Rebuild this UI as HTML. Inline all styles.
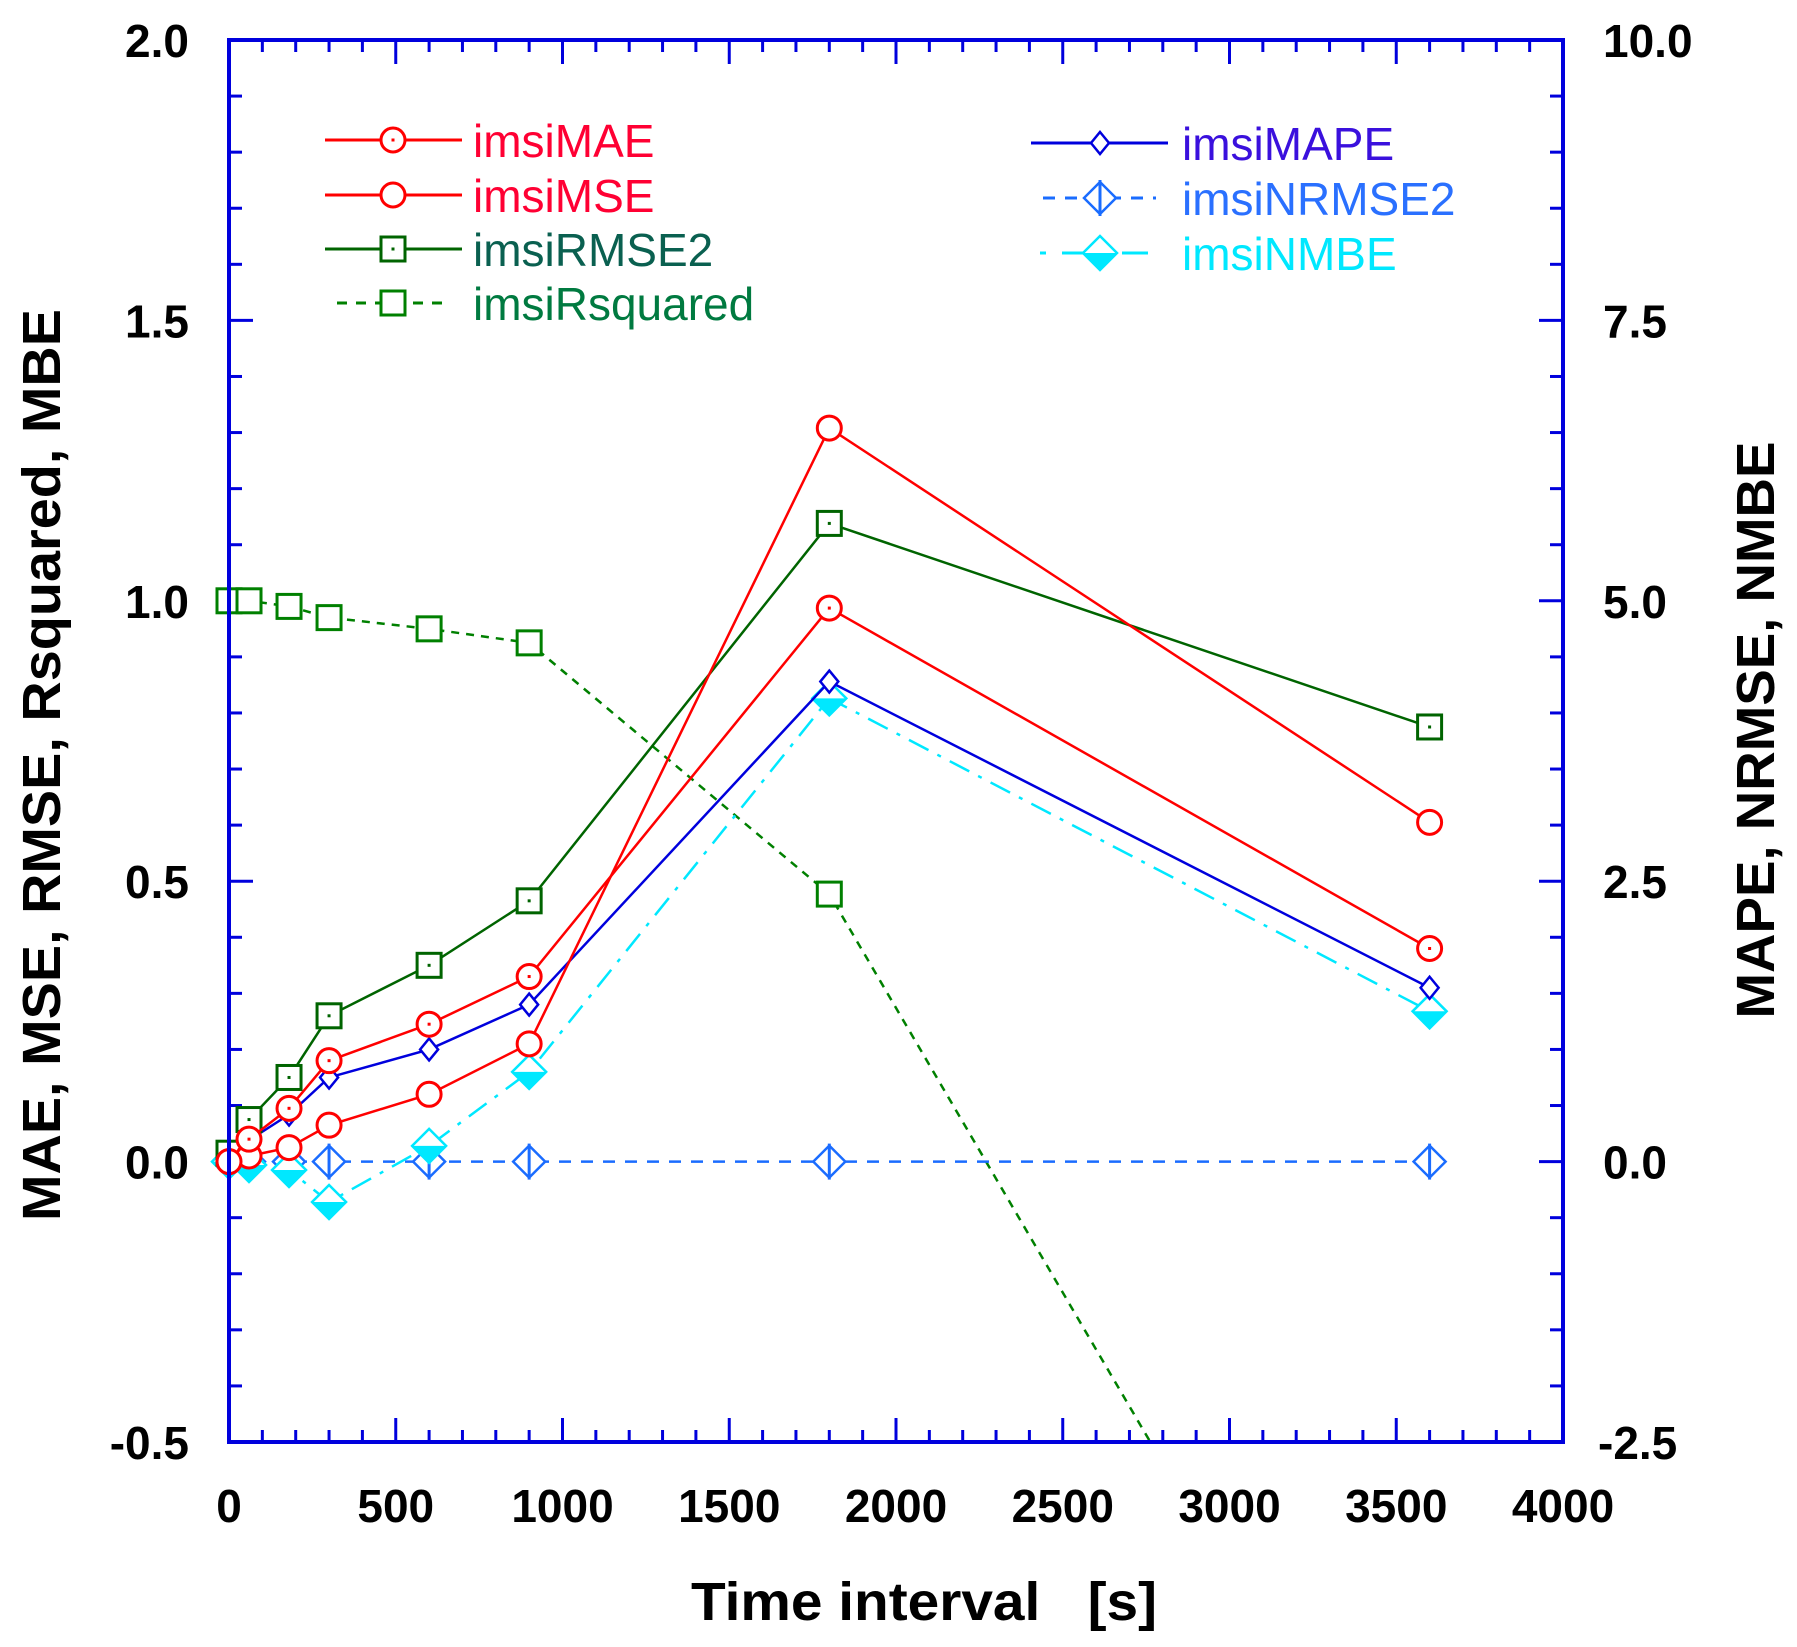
<!DOCTYPE html>
<html><head><meta charset="utf-8"><style>
html,body{margin:0;padding:0;background:#fff;width:1797px;height:1647px;overflow:hidden;}
svg{display:block;font-family:"Liberation Sans",sans-serif;}
</style></head><body>
<svg id="chart" width="1797" height="1647" viewBox="0 0 1797 1647" xmlns="http://www.w3.org/2000/svg">
<g id="grid-ticks"></g>
<g id="series"></g>
<rect x="229" y="40" width="1334" height="1402" fill="none" stroke="#0000dd" stroke-width="4"/>
<g id="labels" font-size="46" font-weight="bold" fill="#000"></g>
<text transform="translate(60,765) rotate(-90)" text-anchor="middle" font-size="54" font-weight="bold" textLength="912" lengthAdjust="spacingAndGlyphs">MAE, MSE, RMSE, Rsquared, MBE</text>
<text transform="translate(1774,730) rotate(-90)" text-anchor="middle" font-size="54" font-weight="bold" textLength="577" lengthAdjust="spacingAndGlyphs">MAPE, NRMSE, NMBE</text>
<text x="924" y="1620" text-anchor="middle" font-size="54" font-weight="bold" textLength="466" lengthAdjust="spacingAndGlyphs" xml:space="preserve">Time interval   [s]</text>
<g id="legend" font-size="46"></g>
</svg>
<script>
const xVals = [0, 60, 180, 300, 600, 900, 1800, 3600];
const maeVals = [0.0, 0.04, 0.095, 0.18, 0.245, 0.33, 0.987, 0.38];
const mseVals = [0.0, 0.01, 0.025, 0.065, 0.12, 0.21, 1.308, 0.605];
const rmse2Vals = [0.015, 0.075, 0.15, 0.26, 0.35, 0.465, 1.138, 0.775];
const rsqVals = [1.0, 1.0, 0.99, 0.97, 0.95, 0.925, 0.477, -1.35];
const mapeVals = [0.0, 0.19, 0.42, 0.75, 1.0, 1.4, 4.28, 1.55];
const nrmseVals = [0.0, 0.0, 0.0, 0.0, 0.0, 0.0, 0.0, 0.0];
const nmbeVals = [0.0, -0.03, -0.075, -0.36, 0.14, 0.8, 4.13, 1.34];
const xTicks = [0, 500, 1000, 1500, 2000, 2500, 3000, 3500, 4000];
const yLeftTicks = ["-0.5", "0.0", "0.5", "1.0", "1.5", "2.0"];
const yRightTicks = ["-2.5", "0.0", "2.5", "5.0", "7.5", "10.0"];

const NS = "http://www.w3.org/2000/svg";
const X0 = 229, X1 = 1563, Y0 = 1442, Y1 = 40;
function xs(v){ return X0 + (v - 0) / 4000 * (X1 - X0); }
function yl(v){ return Y0 - (v + 0.5) / 2.5 * (Y0 - Y1); }
function yr(v){ return Y0 - (v + 2.5) / 12.5 * (Y0 - Y1); }
function mk(tag, attrs, parent){
  const e = document.createElementNS(NS, tag);
  for (const k in attrs) e.setAttribute(k, attrs[k]);
  parent.appendChild(e); return e;
}
const AX = "#0000dd";
const ticks = document.getElementById('grid-ticks');
for (let v = 0; v <= 4000; v += 100) {
  const len = v % 500 === 0 ? 24 : 12;
  const x = xs(v);
  const t1 = mk('line', {x1:x, y1:Y0, x2:x, y2:Y0-len, stroke:AX, 'stroke-width':3}, ticks);
  
  
  const t2 = mk('line', {x1:x, y1:Y1, x2:x, y2:Y1+len, stroke:AX, 'stroke-width':3}, ticks);
  
  
}
for (let i = 0; i <= 25; i++) {
  const v = -0.5 + i * 0.1;
  const len = i % 5 === 0 ? 24 : 13;
  const y = yl(v);
  const t1 = mk('line', {x1:X0, y1:y, x2:X0+len, y2:y, stroke:AX, 'stroke-width':3}, ticks);
  
  
  const t2 = mk('line', {x1:X1, y1:y, x2:X1-len, y2:y, stroke:AX, 'stroke-width':3}, ticks);
  
  
}
const labels = document.getElementById('labels');
xTicks.forEach(v => {
  const t = mk('text', {x:xs(v), y:1522, 'text-anchor':'middle'}, labels);
  
  
  t.textContent = v;
});
yLeftTicks.forEach(s => {
  const t = mk('text', {x:189, y:yl(parseFloat(s))+17, 'text-anchor':'end'}, labels);
  
  
  t.textContent = s;
});
yRightTicks.forEach(s => {
  const v = parseFloat(s);
  const t = mk('text', {x: v < 0 ? 1598 : 1603, y:yr(v)+17, 'text-anchor':'start'}, labels);
  
  
  t.textContent = s;
});

function marker(type, x, y, color, parent){
  const g = mk('g', {}, parent);
  if (type === 'circleDot' || type === 'circle') {
    mk('circle', {cx:x, cy:y, r:12, fill:'#fff', stroke:color, 'stroke-width':3}, g);
    if (type === 'circleDot') mk('rect', {x:x-1.5, y:y-1.5, width:3, height:3, fill:color}, g);
  } else if (type === 'squareDot' || type === 'square') {
    mk('rect', {x:x-12, y:y-12, width:24, height:24, fill:'#fff', stroke:color, 'stroke-width':3}, g);
    if (type === 'squareDot') mk('rect', {x:x-1.5, y:y-1.5, width:3, height:3, fill:color}, g);
  } else if (type === 'diamondSmall') {
    mk('polygon', {points:`${x},${y-11} ${x+9},${y} ${x},${y+11} ${x-9},${y}`, fill:'#fff', stroke:color, 'stroke-width':2.5}, g);
  } else if (type === 'diamondCross') {
    mk('polygon', {points:`${x},${y-16} ${x+16},${y} ${x},${y+16} ${x-16},${y}`, fill:'#fff', stroke:color, 'stroke-width':2.5}, g);
    mk('line', {x1:x, y1:y-18, x2:x, y2:y+18, stroke:color, 'stroke-width':3}, g);
  } else if (type === 'diamondHalf') {
    mk('polygon', {points:`${x},${y-17} ${x+17},${y} ${x},${y+17} ${x-17},${y}`, fill:'#fff', stroke:color, 'stroke-width':2.5}, g);
    mk('polygon', {points:`${x-17},${y} ${x+17},${y} ${x},${y+17}`, fill:color}, g);
  }
  return g;
}
// clip a polyline (pixel points) to the plot's vertical range
function clipPts(pts){
  const out = [];
  for (let i = 0; i < pts.length; i++) {
    const p = pts[i];
    const inside = p[1] >= Y1 && p[1] <= Y0;
    if (i > 0) {
      const q = pts[i-1];
      const qin = q[1] >= Y1 && q[1] <= Y0;
      if (inside !== qin) {
        const edge = (inside ? q[1] : p[1]) > Y0 ? Y0 : Y1;
        const t = (edge - q[1]) / (p[1] - q[1]);
        out.push([q[0] + t * (p[0] - q[0]), edge]);
      }
    }
    if (inside) out.push(p);
  }
  return out;
}
const seriesDefs = [
  {name:'imsiRsquared', vals:rsqVals, axis:'l', color:'#008000', dash:'8 7', marker:'square'},
  {name:'imsiNRMSE2', vals:nrmseVals, axis:'r', color:'#1a6cff', dash:'12 10', marker:'diamondCross'},
  {name:'imsiNMBE', vals:nmbeVals, axis:'r', color:'#00e8ff', dash:'22 10 4 10', marker:'diamondHalf'},
  {name:'imsiMAPE', vals:mapeVals, axis:'r', color:'#0000dd', dash:null, marker:'diamondSmall'},
  {name:'imsiRMSE2', vals:rmse2Vals, axis:'l', color:'#006400', dash:null, marker:'squareDot'},
  {name:'imsiMSE', vals:mseVals, axis:'l', color:'#ff0000', dash:null, marker:'circle'},
  {name:'imsiMAE', vals:maeVals, axis:'l', color:'#ff0000', dash:null, marker:'circleDot'},
];
const sl = document.getElementById('series');
seriesDefs.forEach(s => {
  const g = mk('g', {}, sl);
  
  
  const yf = s.axis === 'l' ? yl : yr;
  const raw = s.vals.map((v, i) => [xs(xVals[i]), yf(v)]);
  const pts = clipPts(raw).map(p => p[0] + ',' + p[1]).join(' ');
  const attrs = {points:pts, fill:'none', stroke:s.color, 'stroke-width':2.5};
  if (s.dash) attrs['stroke-dasharray'] = s.dash;
  const pl = mk('polyline', attrs, g);
  
  
  raw.forEach(p => {
    if (p[1] < Y1 || p[1] > Y0) return;
    const m = marker(s.marker, p[0], p[1], s.color, g);
    
    
  });
});

const legendItems = [
  {name:'imsiMAE', color:'#ff0000', dash:null, marker:'circleDot', lx1:325, lx2:462, mx:393, y:140, tx:473, tc:'#ff0033'},
  {name:'imsiMSE', color:'#ff0000', dash:null, marker:'circle', lx1:325, lx2:462, mx:393, y:195, tx:473, tc:'#ff0033'},
  {name:'imsiRMSE2', color:'#006400', dash:null, marker:'squareDot', lx1:325, lx2:462, mx:393, y:249, tx:473, tc:'#0a6050'},
  {name:'imsiRsquared', color:'#008000', dash:'10 9', marker:'square', lx1:337, lx2:450, mx:393, y:303, tx:473, tc:'#007a40'},
  {name:'imsiMAPE', color:'#0000dd', dash:null, marker:'diamondSmall', lx1:1031, lx2:1168, mx:1100, y:143, tx:1182, tc:'#3a10dd'},
  {name:'imsiNRMSE2', color:'#1a6cff', dash:'12 10', marker:'diamondCross', lx1:1043, lx2:1156, mx:1100, y:198, tx:1182, tc:'#2a70ff'},
  {name:'imsiNMBE', color:'#00e8ff', dash:'6 16 28 10', marker:'diamondHalf', lx1:1040, lx2:1148, mx:1100, y:253, tx:1182, tc:'#00e8ff'},
];
const lg = document.getElementById('legend');
legendItems.forEach(it => {
  const g = mk('g', {}, lg);
  
  
  const a = {x1:it.lx1, y1:it.y, x2:it.lx2, y2:it.y, stroke:it.color, 'stroke-width':3};
  if (it.dash) a['stroke-dasharray'] = it.dash;
  mk('line', a, g);
  marker(it.marker, it.mx, it.y, it.color, g);
  const t = mk('text', {x:it.tx, y:it.y+17, fill:it.tc}, g);
  t.textContent = it.name;
});
</script>
</body></html>
